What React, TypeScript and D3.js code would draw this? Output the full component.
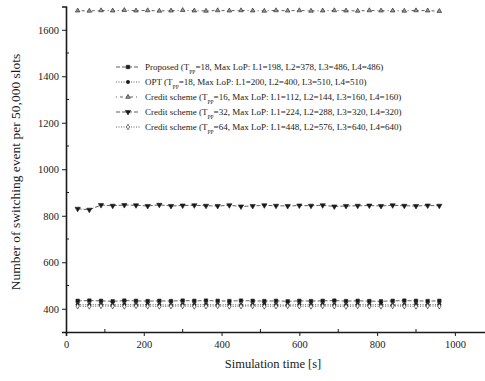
import { useEffect, useRef } from "react";
import * as d3 from "d3";

const times = [30, 60, 90, 120, 150, 180, 210, 240, 270, 300, 330, 360, 390, 420, 450, 480,
  510, 540, 570, 600, 630, 660, 690, 720, 750, 780, 810, 840, 870, 900, 930, 960];

const proposed = [434, 435, 434, 432, 435, 434, 433, 434, 433, 435, 434, 435, 434, 433, 435, 434,
  433, 434, 432, 434, 433, 434, 435, 433, 434, 433, 432, 434, 435, 434, 433, 434];
const opt = [418, 417, 418, 416, 418, 417, 418, 417, 416, 418, 417, 418, 417, 418, 416, 417,
  418, 417, 416, 418, 417, 418, 417, 416, 418, 417, 418, 416, 417, 418, 417, 418];
const credit16 = [1682, 1681, 1683, 1682, 1684, 1682, 1683, 1681, 1682, 1684, 1682, 1681, 1683, 1682, 1683, 1682,
  1681, 1683, 1682, 1683, 1681, 1682, 1683, 1682, 1681, 1683, 1682, 1682, 1681, 1683, 1682, 1680];
const credit32 = [830, 826, 846, 843, 846, 845, 842, 847, 842, 844, 845, 843, 842, 845, 840, 842,
  845, 843, 842, 844, 843, 845, 840, 842, 843, 844, 842, 845, 843, 842, 844, 843];
const credit64 = [411, 410, 412, 411, 410, 412, 411, 410, 411, 412, 410, 411, 412, 410, 411, 412,
  410, 411, 412, 411, 410, 412, 411, 410, 412, 411, 410, 412, 411, 410, 412, 411];

const yTicks = [400, 600, 800, 1000, 1200, 1400, 1600];
const xTicks = [0, 200, 400, 600, 800, 1000];

const legendLabels = [
  ["Proposed (T", "=18, Max LoP: L1=198, L2=378, L3=486, L4=486)"],
  ["OPT (T", "=18, Max LoP: L1=200, L2=400, L3=510, L4=510)"],
  ["Credit scheme (T", "=16, Max LoP: L1=112, L2=144, L3=160, L4=160)"],
  ["Credit scheme (T", "=32, Max LoP: L1=224, L2=288, L3=320, L4=320)"],
  ["Credit scheme (T", "=64, Max LoP: L1=448, L2=576, L3=640, L4=640)"],
];

const FONT = "'Liberation Serif', 'DejaVu Serif', serif";
const INK = "#1a1a1a";

export default function App() {
  const svgRef = useRef<SVGSVGElement>(null);

  useEffect(() => {
    const svg = d3.select(svgRef.current);
    svg.selectAll("*").remove();

    const x = d3.scaleLinear().domain([0, 1080]).range([66, 486]);
    const y = d3.scaleLinear().domain([300, 1700]).range([332, 6.5]);

    const series = [
      { values: proposed, dash: "4,2", symbol: d3.symbolSquare, size: 12, fill: INK },
      { values: opt, dash: "1,1.5", symbol: d3.symbolCircle, size: 9, fill: INK },
      { values: credit16, dash: "1,3,3,3", symbol: d3.symbolTriangle, size: 9, fill: "#999" },
      { values: credit32, dash: "4,2", symbol: d3.symbolTriangle, size: 12, fill: INK, flip: true },
      { values: credit64, dash: "1,1.5", symbol: d3.symbolDiamond, size: 9, fill: "#fff" },
    ];

    // axes
    const gx = svg.append("g").attr("transform", `translate(0,${y(300)})`)
      .call(d3.axisBottom(x).tickValues(xTicks).tickSize(4).tickPadding(5).tickFormat(d3.format("d")));
    gx.select(".domain").attr("stroke", INK).attr("stroke-width", 1.6);
    gx.selectAll(".tick line").attr("stroke", INK);
    gx.selectAll(".tick text").attr("fill", INK).attr("font-size", 10.5).attr("font-family", FONT);
    svg.append("g").selectAll("line").data([100, 300, 500, 700, 900]).enter().append("line")
      .attr("x1", d => x(d)).attr("x2", d => x(d))
      .attr("y1", y(300)).attr("y2", y(300) - 3).attr("stroke", INK);

    const gy = svg.append("g").attr("transform", `translate(${x(0)},0)`)
      .call(d3.axisLeft(y).tickValues(yTicks).tickSize(4).tickPadding(3).tickFormat(d3.format("d")));
    gy.select(".domain").attr("stroke", INK).attr("stroke-width", 1.6);
    gy.selectAll(".tick line").attr("stroke", INK);
    gy.selectAll(".tick text").attr("fill", INK).attr("font-size", 10.5).attr("font-family", FONT);
    svg.append("g").selectAll("line").data([500, 700, 900, 1100, 1300, 1500]).enter().append("line")
      .attr("x1", x(0)).attr("x2", x(0) + 3)
      .attr("y1", d => y(d)).attr("y2", d => y(d)).attr("stroke", INK);

    // series
    const line = d3.line<number>().x((_, i) => x(times[i])).y(d => y(d));
    series.forEach(s => {
      svg.append("path").datum(s.values).attr("d", line)
        .attr("fill", "none").attr("stroke", INK).attr("stroke-width", 0.7)
        .attr("stroke-dasharray", s.dash);
      svg.append("g").selectAll("path").data(s.values).enter().append("path")
        .attr("d", d3.symbol().type(s.symbol).size(s.size)())
        .attr("transform", (d, i) => `translate(${x(times[i])},${y(d)})${s.flip ? " rotate(180)" : ""}`)
        .attr("fill", s.fill).attr("stroke", INK).attr("stroke-width", 0.6);
    });

    // legend
    const lg = svg.append("g");
    legendLabels.forEach(([pre, post], i) => {
      const s = series[i];
      const ly = 67 + i * 15;
      lg.append("line").attr("x1", 116).attr("x2", 140).attr("y1", ly).attr("y2", ly)
        .attr("stroke", INK).attr("stroke-width", 0.7).attr("stroke-dasharray", s.dash);
      lg.append("path").attr("d", d3.symbol().type(s.symbol).size(s.size)())
        .attr("transform", `translate(128,${ly})${s.flip ? " rotate(180)" : ""}`)
        .attr("fill", s.fill).attr("stroke", INK).attr("stroke-width", 0.6);
      const t = lg.append("text").attr("x", 145).attr("y", ly + 3)
        .attr("font-size", 9).attr("font-family", FONT).attr("fill", INK);
      t.append("tspan").text(pre);
      t.append("tspan").attr("dy", 3.5).attr("font-size", 5.5).text("PP");
      t.append("tspan").attr("dy", -3.5).text(post);
    });

    // axis titles
    svg.append("text").attr("x", 273).attr("y", 368).attr("text-anchor", "middle")
      .attr("font-size", 12.5).attr("font-family", FONT).attr("fill", INK)
      .text("Simulation time [s]");
    svg.append("text").attr("transform", "translate(20,172) rotate(-90)").attr("text-anchor", "middle")
      .attr("font-size", 13.5).attr("font-family", FONT).attr("fill", INK)
      .text("Number of switching event per 50,000 slots");
  }, []);

  return (
    <svg ref={svgRef} width={485} height={381}
      style={{ position: "absolute", left: 0, top: 0, background: "#fff" }} />
  );
}
